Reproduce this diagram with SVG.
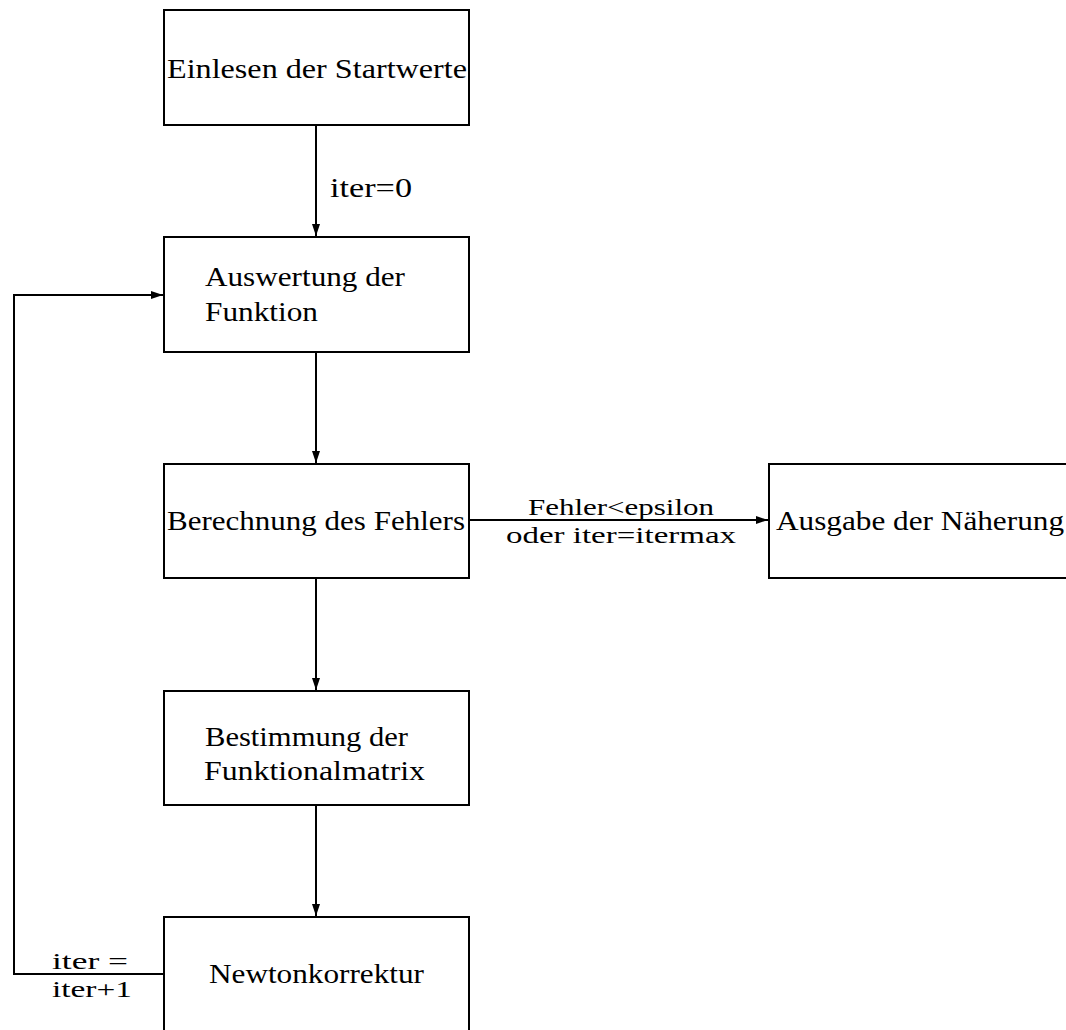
<svg xmlns="http://www.w3.org/2000/svg" width="1066" height="1030" viewBox="0 0 1066 1030">
<style>
.box{fill:#fff;stroke:#000;stroke-width:2}
.t{font-family:"Liberation Serif","Times New Roman",serif;font-size:28px;fill:#000}
.s{font-size:24px}
.c{text-anchor:middle}
.ln{fill:none;stroke:#000;stroke-width:2}
</style>
<defs>
<marker id="ah" viewBox="0 0 12 8" refX="12" refY="4" markerWidth="12" markerHeight="8" markerUnits="userSpaceOnUse" orient="auto">
<path d="M0,0 L12,4 L0,8 Z" fill="#000"/>
</marker>
</defs>
<rect width="1066" height="1030" fill="#fff"/>
<g id="connectors">
<line class="ln" x1="316" y1="125" x2="316" y2="236" marker-end="url(#ah)"/>
<line class="ln" x1="316" y1="352" x2="316" y2="463" marker-end="url(#ah)"/>
<line class="ln" x1="469" y1="520" x2="768" y2="520" marker-end="url(#ah)"/>
<line class="ln" x1="316" y1="578" x2="316" y2="690" marker-end="url(#ah)"/>
<line class="ln" x1="316" y1="805" x2="316" y2="916" marker-end="url(#ah)"/>
<polyline class="ln" points="164,974 14,974 14,295 163,295" marker-end="url(#ah)"/>
<text class="t" x="330" y="197" textLength="82" lengthAdjust="spacingAndGlyphs">iter=0</text>
<text class="t s c" x="621" y="515" textLength="186" lengthAdjust="spacingAndGlyphs">Fehler&lt;epsilon</text>
<text class="t s c" x="621" y="543" textLength="230" lengthAdjust="spacingAndGlyphs">oder iter=itermax</text>
<text class="t s" x="52" y="969" textLength="76" lengthAdjust="spacingAndGlyphs">iter =</text>
<text class="t s" x="52" y="997" textLength="80" lengthAdjust="spacingAndGlyphs">iter+1</text>
</g>
<g id="n1">
<rect class="box" x="164" y="10" width="305" height="115"/>
<text class="t" x="167" y="78" textLength="300" lengthAdjust="spacingAndGlyphs">Einlesen der Startwerte</text>
</g>
<g id="n2">
<rect class="box" x="164" y="237" width="305" height="115"/>
<text class="t" x="205" y="286" textLength="200" lengthAdjust="spacingAndGlyphs">Auswertung der</text>
<text class="t" x="205" y="321" textLength="113" lengthAdjust="spacingAndGlyphs">Funktion</text>
</g>
<g id="n3">
<rect class="box" x="164" y="464" width="305" height="114"/>
<text class="t" x="167" y="530" textLength="298" lengthAdjust="spacingAndGlyphs">Berechnung des Fehlers</text>
</g>
<g id="n4">
<rect class="box" x="769" y="464" width="310" height="114"/>
<text class="t" x="776" y="530" textLength="288" lengthAdjust="spacingAndGlyphs">Ausgabe der Näherung</text>
</g>
<g id="n5">
<rect class="box" x="164" y="691" width="305" height="114"/>
<text class="t" x="205" y="746" textLength="203" lengthAdjust="spacingAndGlyphs">Bestimmung der</text>
<text class="t" x="204" y="780" textLength="221" lengthAdjust="spacingAndGlyphs">Funktionalmatrix</text>
</g>
<g id="n6">
<rect class="box" x="164" y="917" width="305" height="120"/>
<text class="t" x="209" y="983" textLength="215" lengthAdjust="spacingAndGlyphs">Newtonkorrektur</text>
</g>
</svg>
